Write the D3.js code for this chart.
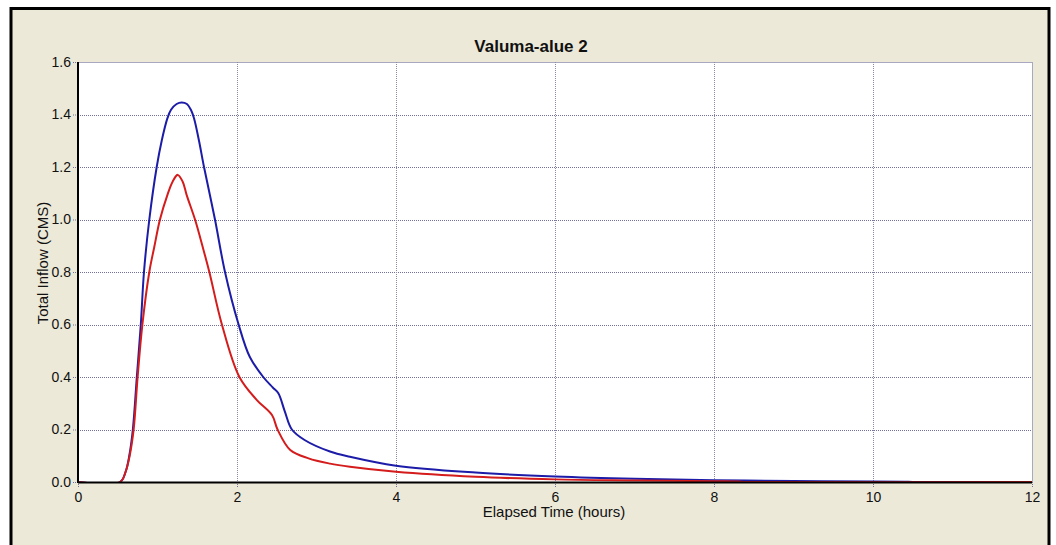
<!DOCTYPE html>
<meta charset="utf-8">
<script src="https://d3js.org/d3.v7.min.js"></script>
<style>
  body { margin: 0; background: #fff; }
  text { font-family: "Liberation Sans", Arial, sans-serif; fill: #111; }
</style>
<div id="chart"></div>
<script>
  // data (hours, CMS)
  var blueTime = [0, 0.53, 0.6, 0.645, 0.69, 0.74, 0.79, 0.83, 0.897, 0.99, 1.053, 1.124, 1.17, 1.24, 1.304, 1.37, 1.42, 1.46, 1.522, 1.585, 1.723, 1.849, 2.02, 2.16, 2.33, 2.45, 2.52, 2.6, 2.69, 2.85, 3.17, 3.42, 4, 5, 6, 7, 8, 9, 10, 10.4, 10.5, 12];
  var blueFlow = [0, 0, 0.04, 0.1, 0.2, 0.4, 0.6, 0.8, 1.0, 1.2, 1.3, 1.385, 1.418, 1.44, 1.446, 1.44, 1.418, 1.385, 1.3, 1.2, 1.0, 0.8, 0.6, 0.477, 0.4, 0.36, 0.338, 0.27, 0.2, 0.16, 0.116, 0.096, 0.062, 0.036, 0.021, 0.012, 0.007, 0.004, 0.002, 0.001, 0, 0];

  var redTime = [0, 0.53, 0.6, 0.65, 0.7, 0.75, 0.81, 0.897, 0.96, 1.031, 1.124, 1.19, 1.254, 1.317, 1.367, 1.472, 1.568, 1.652, 1.81, 2.03, 2.25, 2.44, 2.51, 2.67, 2.9, 3.17, 3.42, 4, 5, 6, 7, 8, 8.3, 8.4, 12];
  var redFlow = [0, 0, 0.04, 0.1, 0.2, 0.4, 0.6, 0.8, 0.896, 1.0, 1.093, 1.144, 1.17, 1.144, 1.093, 1.0, 0.896, 0.8, 0.6, 0.4, 0.312, 0.255, 0.2, 0.122, 0.09, 0.07, 0.058, 0.039, 0.02, 0.01, 0.006, 0.003, 0.002, 0, 0];

  var xTicks = [0, 2, 4, 6, 8, 10, 12];
  var yTicks = [0, 0.2, 0.4, 0.6, 0.8, 1.0, 1.2, 1.4, 1.6];

  var W = 1056, H = 545;
  var pL = 78, pR = 1032, pT = 62, pB = 482;

  var svg = d3.select("#chart").append("svg")
    .attr("width", W).attr("height", H);

  // beige window panel with black border
  svg.append("rect")
    .attr("x", 11).attr("y", 8.5).attr("width", 1038).attr("height", 560)
    .attr("fill", "#ece9d8").attr("stroke", "#000").attr("stroke-width", 3);

  var x = d3.scaleLinear().domain([0, 12]).range([pL, pR]);
  var y = d3.scaleLinear().domain([0, 1.6]).range([pB, pT]);

  // plot area
  svg.append("rect")
    .attr("x", pL).attr("y", pT + 0.5).attr("width", pR - pL + 0.5).attr("height", pB - pT)
    .attr("fill", "#fff").attr("stroke", "#a8a8c0").attr("stroke-width", 1);

  // grid
  svg.append("g")
    .selectAll("line").data(yTicks.slice(1, -1)).enter().append("line")
    .attr("x1", pL).attr("x2", pR)
    .attr("y1", function (d) { return Math.round(y(d)) + 0.5 })
    .attr("y2", function (d) { return Math.round(y(d)) + 0.5 })
    .attr("stroke", "#70709a").attr("stroke-dasharray", "1,1");
  svg.append("g")
    .selectAll("line").data(xTicks.slice(1, -1)).enter().append("line")
    .attr("x1", function (d) { return Math.round(x(d)) + 0.5 })
    .attr("x2", function (d) { return Math.round(x(d)) + 0.5 })
    .attr("y1", pT).attr("y2", pB)
    .attr("stroke", "#8a8aa0").attr("stroke-dasharray", "1,1");

  // axes
  var xAxis = svg.append("g")
    .attr("transform", "translate(0," + pB + ")")
    .call(d3.axisBottom(x).tickValues(xTicks).tickSize(5).tickPadding(5).tickSizeOuter(0).tickFormat(d3.format("d")));
  var yAxis = svg.append("g")
    .attr("transform", "translate(" + pL + ",0)")
    .call(d3.axisLeft(y).tickValues(yTicks).tickSize(6).tickPadding(1).tickSizeOuter(0).tickFormat(d3.format(".1f")));
  [xAxis, yAxis].forEach(function (g) {
    g.attr("font-size", 14);
    g.selectAll(".domain").remove();
    g.selectAll(".tick line").attr("stroke", "#70709a").attr("stroke-dasharray", "1,1");
    g.selectAll(".tick text").attr("fill", "#111");
  });

  // clip for lines
  svg.append("clipPath").attr("id", "clip").append("rect")
    .attr("x", pL).attr("y", pT - 2).attr("width", pR - pL).attr("height", pB - pT + 2);

  var line = d3.line()
    .x(function (d) { return x(d[0]) })
    .y(function (d) { return y(d[1]) })
    .curve(d3.curveCatmullRom.alpha(0.5));

  var blue = blueTime.map(function (t, i) { return [t, blueFlow[i]] });
  var red = redTime.map(function (t, i) { return [t, redFlow[i]] });

  svg.append("path").datum(blue)
    .attr("clip-path", "url(#clip)")
    .attr("d", line).attr("fill", "none")
    .attr("stroke", "#1c1ca8").attr("stroke-width", 2);
  svg.append("path").datum(red)
    .attr("clip-path", "url(#clip)")
    .attr("d", line).attr("fill", "none")
    .attr("stroke", "#d41c1c").attr("stroke-width", 2);

  // black left and bottom axis lines
  svg.append("line").attr("x1", pL).attr("x2", pL).attr("y1", pT).attr("y2", pB + 1)
    .attr("stroke", "#000").attr("stroke-width", 2);
  svg.append("line").attr("x1", pL).attr("x2", pR).attr("y1", pB + 0.5).attr("y2", pB + 0.5)
    .attr("stroke", "#000").attr("stroke-width", 2);

  // titles
  svg.append("text")
    .attr("x", 531).attr("y", 52)
    .attr("text-anchor", "middle")
    .style("font-size", "17px").style("font-weight", "bold")
    .text("Valuma-alue 2");

  svg.append("text")
    .attr("x", 554).attr("y", 517)
    .attr("text-anchor", "middle")
    .style("font-size", "15px")
    .text("Elapsed Time (hours)");

  svg.append("text")
    .attr("transform", "translate(48,263) rotate(-90)")
    .attr("text-anchor", "middle")
    .style("font-size", "15px")
    .text("Total Inflow (CMS)");
</script>
